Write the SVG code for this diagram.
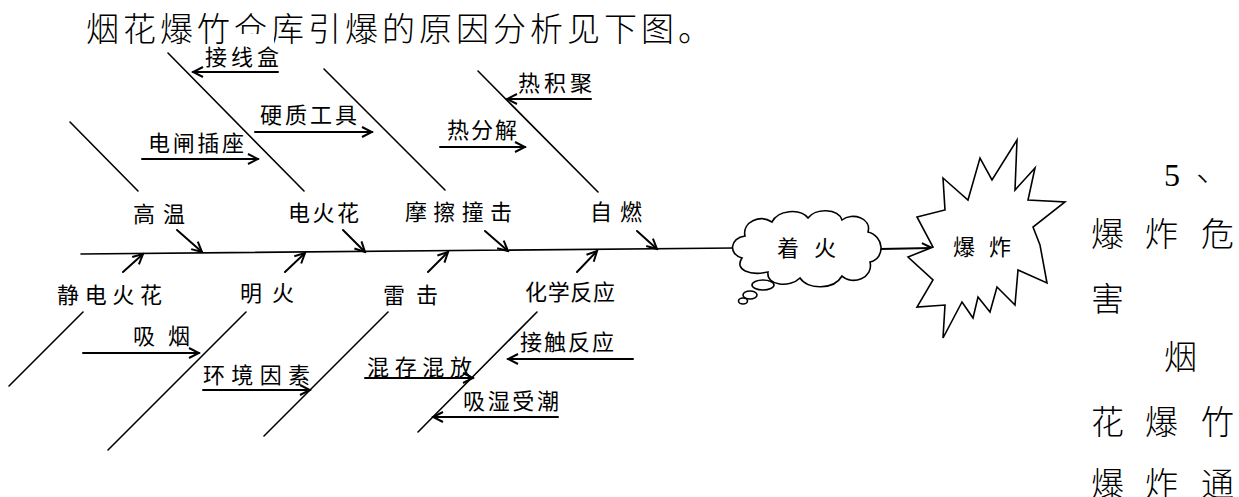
<svg xmlns="http://www.w3.org/2000/svg" width="1239" height="497" viewBox="0 0 1239 497">
<style>
.ln{stroke:#000;stroke-width:1.6;fill:none;stroke-linecap:round}
.ar{stroke:#000;stroke-width:2;fill:none;stroke-linecap:round;marker-end:url(#arr)}
.lb{font-family:"Noto Sans CJK SC","Noto Sans CJK TC",sans-serif;font-size:22px;fill:#000}
.big{font-family:"Noto Sans CJK SC","Liberation Serif",serif;font-size:33px;font-weight:300;fill:#000}
.shape{stroke:#000;stroke-width:1.6;fill:#fff}
</style>
<defs>
<marker id="arr" markerUnits="userSpaceOnUse" markerWidth="14" markerHeight="14" viewBox="0 0 14 14" refX="12" refY="7" orient="auto">
<path d="M2,2 L12,7 L2,12" fill="none" stroke="#000" stroke-width="2"/>
</marker>
</defs>
<rect width="1239" height="497" fill="#fff"/>

<g id="title">
<text class="big" x="86" y="41" font-size="34" letter-spacing="4">烟花爆竹仓库引爆的原因分析见下图。</text>
<rect x="230" y="34" width="44" height="10" fill="#fff"/>
</g>

<g id="side-text" class="big">
<text x="1164" y="186" font-family="Liberation Serif" font-size="32">5</text>
<text x="1196" y="181">、</text>
<text x="1091 1145 1201" y="246">爆炸危</text>
<text x="1091" y="311">害</text>
<text x="1164" y="369">烟</text>
<text x="1091 1145 1201" y="434">花爆竹</text>
<text x="1091 1145 1201" y="496">爆炸通</text>
</g>

<g id="connectors">
<path class="ln" d="M81,254 L735,248" stroke-width="2.2"/>
<path class="ln" d="M70,122 L138,191"/>
<path class="ln" d="M168,53 L304,191"/>
<path class="ln" d="M324,69 L445,190"/>
<path class="ln" d="M478,71 L598,192"/>
<path class="ln" d="M9,386 L83,312"/>
<path class="ln" d="M108,450 L246,312"/>
<path class="ln" d="M264,436 L388,312"/>
<path class="ln" d="M418,432 L537,312"/>
<path class="ar" d="M177,230 L202,252"/>
<path class="ar" d="M343,230 L365,252"/>
<path class="ar" d="M485,231 L508,251"/>
<path class="ar" d="M637,231 L657,249"/>
<path class="ar" d="M123,272 L143,254"/>
<path class="ar" d="M285,272 L305,253"/>
<path class="ar" d="M428,272 L448,252"/>
<path class="ar" d="M577,272 L597,251"/>
<path class="ar" d="M278,72 L193,72"/>
<path class="ar" d="M255,132 L372,132"/>
<path class="ar" d="M142,159 L258,159"/>
<path class="ar" d="M591,99 L507,99"/>
<path class="ar" d="M440,147 L525,147"/>
<path class="ar" d="M83,353 L199,353"/>
<path class="ar" d="M203,390 L310,390"/>
<path class="ar" d="M365,378 L473,378"/>
<path class="ar" d="M633,359 L508,359"/>
<path class="ar" d="M558,417 L433,417"/>
<path class="ar" d="M880,249 L932,248"/>
</g>

<g id="gaowen"><text class="lb" x="133" y="222" textLength="52">高温</text></g>
<g id="diahuohua"><text class="lb" x="288" y="221" textLength="71">电火花</text></g>
<g id="mocazhuangji"><text class="lb" x="405" y="220" textLength="107">摩擦撞击</text></g>
<g id="ziran"><text class="lb" x="590" y="220" textLength="52">自燃</text></g>
<g id="jingdianhuohua"><text class="lb" x="57" y="303" textLength="105">静电火花</text></g>
<g id="minghuo"><text class="lb" x="240" y="301" textLength="54">明火</text></g>
<g id="leiji"><text class="lb" x="383" y="303" textLength="55">雷击</text></g>
<g id="huaxuefanying"><text class="lb" x="525" y="300" textLength="90">化学反应</text></g>
<g id="jiexianhe"><text class="lb" x="205" y="65" textLength="74">接线盒</text></g>
<g id="yingzhigongju"><text class="lb" x="260" y="123" textLength="97">硬质工具</text></g>
<g id="dianzhachazuo"><text class="lb" x="148" y="151" textLength="96">电闸插座</text></g>
<g id="rejiju"><text class="lb" x="518" y="91" textLength="74">热积聚</text></g>
<g id="refenjie"><text class="lb" x="447" y="138" textLength="70">热分解</text></g>
<g id="xiyan"><text class="lb" x="133" y="344" textLength="57">吸烟</text></g>
<g id="huanjingyinsu"><text class="lb" x="203" y="383" textLength="107">环境因素</text></g>
<g id="hunchunhunfang"><text class="lb" x="367" y="375" textLength="105">混存混放</text></g>
<g id="jiechufanying"><text class="lb" x="520" y="350" textLength="94">接触反应</text></g>
<g id="xishishouchao"><text class="lb" x="463" y="409" textLength="96">吸湿受潮</text></g>

<g id="zhaohuo">
<path class="shape" d="M742,258 C728,254 730,238 745,236 C742,222 760,214 772,222 C778,210 800,208 808,218 C815,208 838,208 842,220 C852,212 872,218 868,232 C884,236 886,258 870,262 C874,278 852,286 842,276 C834,290 808,290 800,278 C790,288 766,286 768,272 C750,276 734,270 742,258 Z"/>
<ellipse class="shape" cx="763" cy="285" rx="11" ry="5"/>
<ellipse class="shape" cx="750" cy="295" rx="7" ry="4"/>
<ellipse class="shape" cx="743" cy="301" rx="4.5" ry="3"/>
<text class="lb" x="777" y="256" textLength="59">着火</text>
</g>

<g id="baozha">
<polygon class="shape" points="1017,140 1015,190 1035,168 1028,200 1065,202 1033,227 1040,245 1047,283 1018,270 1015,305 997,287 990,312 978,297 973,318 962,302 943,338 945,305 917,307 933,280 908,257 933,247 917,217 945,210 943,178 968,200 980,158 992,180"/>
<text class="lb" x="953" y="255" textLength="58">爆炸</text>
</g>
</svg>
